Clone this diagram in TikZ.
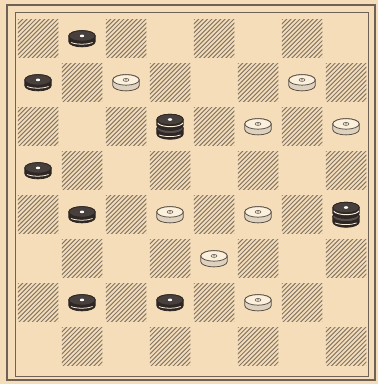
\documentclass[tikz,border=0pt]{standalone}
\usetikzlibrary{calc}
\definecolor{paper}{HTML}{F4DDB8}
\definecolor{hatch}{HTML}{857767}
\definecolor{frameline}{HTML}{6E6256}
\definecolor{darkman}{HTML}{2E2623}
\definecolor{lightman}{HTML}{FBF0DC}

% one disc, top face centred on the origin
\newcommand\mandisc[3]{%
  \filldraw[fill=#1,draw=#3,line width=.5pt] (-.3,0) -- (-.3,-.13)
    arc[start angle=180,end angle=360,x radius=.3,y radius=.12] -- (.3,0)
    arc[start angle=0,end angle=180,x radius=.3,y radius=.12] -- cycle;
  \filldraw[fill=#2,draw=#3,line width=.5pt] (0,0) ellipse[x radius=.3,y radius=.12];}

\begin{document}
\begin{tikzpicture}[x=1cm,y=1cm,
hatchline/.style={draw=hatch,line width=.65pt},
outerframe/.style={draw=frameline,line width=1.3pt},
innerframe/.style={draw=frameline,line width=.6pt},
bman/.pic={
  \mandisc{darkman}{darkman!88!white}{darkman}
  \draw[lightman,line width=.5pt] (-.25,-.15) arc[start angle=215,end angle=325,x radius=.3,y radius=.09];
  \fill[white] (0,0) ellipse[x radius=.05,y radius=.03];},
wman/.pic={
  \mandisc{lightman!75!hatch}{lightman}{frameline!80!black}
  \draw[frameline,line width=.4pt] (0,0) ellipse[x radius=.065,y radius=.035];
  \fill[frameline] (0,0) circle[radius=.018];},
bking/.pic={
  \begin{scope}[yshift=-.2cm]
    \mandisc{darkman}{darkman!80!white}{darkman}
    \draw[lightman,line width=.5pt] (-.25,-.15) arc[start angle=215,end angle=325,x radius=.3,y radius=.09];
  \end{scope}
  \mandisc{darkman}{darkman!88!white}{darkman}
  \draw[lightman,line width=.6pt] (-.28,-.08) arc[start angle=190,end angle=350,x radius=.29,y radius=.1];
  \fill[white] (0,0) ellipse[x radius=.05,y radius=.03];}]

\useasboundingbox (-.364,-.341) rectangle (8.227,8.386);
\fill[paper] (-.364,-.341) rectangle (8.227,8.386);

% hatched squares
\foreach \r in {0,...,7}
 \foreach \cc in {0,2,4,6}{
  \pgfmathtruncatemacro\c{\cc+mod(\r,2)}
  \begin{scope}
   \clip (\c+.04,7-\r+.07) rectangle ++(.92,.88);
   \foreach \k in {-1,-.9,...,1}
    \draw[hatchline] (\c+\k,7-\r) -- ++(1,1);
  \end{scope}}

% frame
\draw[outerframe] (-.205,-.25) rectangle (8.16,8.273);
\draw[innerframe] (-.02,-.16) rectangle (8.0,8.11);

% men
\foreach \c/\r in {1/0,0/1,0/3,1/4,1/6,3/6}
  \pic at (\c+.5,7.57-\r) {bman};
\foreach \c/\r in {2/1,6/1,5/2,7/2,3/4,5/4,4/5,5/6}
  \pic at (\c+.5,7.57-\r) {wman};
\foreach \c/\r in {3/2,7/4}
  \pic at (\c+.5,7.67-\r) {bking};
\end{tikzpicture}
\end{document}
